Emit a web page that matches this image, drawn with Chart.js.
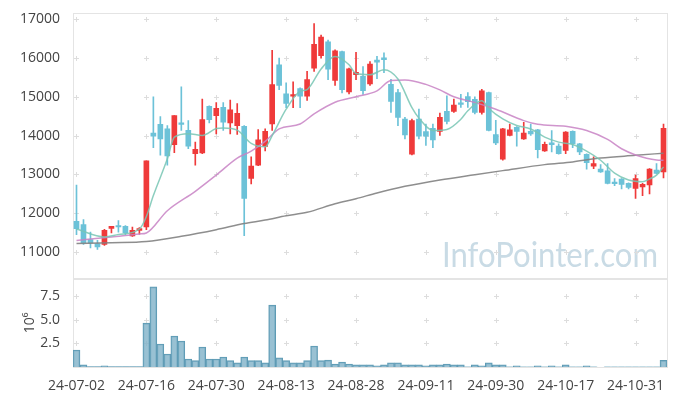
<!DOCTYPE html>
<html>
<head>
<meta charset="utf-8">
<script src="https://cdn.jsdelivr.net/npm/chart.js@4.4.1/dist/chart.umd.min.js"></script>
<style>
html,body{margin:0;padding:0;background:#fff;}
#wrap{width:677px;height:396px;}
</style>
</head>
<body>
<div id="wrap"><canvas id="chart"></canvas></div>
<script>
// trading days 24-07-02 .. 24-11-06
const dates=[
'24-07-02','24-07-03','24-07-04','24-07-05','24-07-08','24-07-09','24-07-10','24-07-11','24-07-12','24-07-15',
'24-07-16','24-07-17','24-07-18','24-07-19','24-07-22','24-07-23','24-07-24','24-07-25','24-07-26','24-07-29',
'24-07-30','24-07-31','24-08-01','24-08-02','24-08-05','24-08-06','24-08-07','24-08-08','24-08-09','24-08-12',
'24-08-13','24-08-14','24-08-16','24-08-19','24-08-20','24-08-21','24-08-22','24-08-23','24-08-26','24-08-27',
'24-08-28','24-08-29','24-08-30','24-09-02','24-09-03','24-09-04','24-09-05','24-09-06','24-09-09','24-09-10',
'24-09-11','24-09-12','24-09-13','24-09-19','24-09-20','24-09-23','24-09-24','24-09-25','24-09-26','24-09-27',
'24-09-30','24-10-02','24-10-04','24-10-07','24-10-08','24-10-10','24-10-11','24-10-14','24-10-15','24-10-16',
'24-10-17','24-10-18','24-10-21','24-10-22','24-10-23','24-10-24','24-10-25','24-10-28','24-10-29','24-10-30',
'24-10-31','24-11-01','24-11-04','24-11-05','24-11-06'
];

const opens=[
11785,11701,11317,11215,11189,11606,11660,11657,11409,11555,
11639,14061,14291,14171,13762,14310,14138,13532,13550,14752,
14514,14726,14325,14258,14240,12893,13235,13721,14299,15826,
15077,15015,15212,15015,15742,16064,16422,15425,16166,15128,
15570,15527,15332,15946,16005,15322,15110,14427,13517,14427,
14105,14189,14105,14624,14624,14836,15008,14936,14598,15110,
14028,13389,14002,14215,13916,14112,14146,13601,13813,13729,
13619,14112,13788,13517,13210,13133,13089,12780,12877,12765,
12637,12673,12724,13107,13064
];
const highs=[
12724,11829,11512,11299,11580,11660,11803,11680,11639,11624,
13345,15000,14488,14258,14514,15256,14386,13831,14939,14770,
14854,14854,14913,14828,14260,13448,14156,14171,16202,15997,
15358,15384,15230,15655,16892,16593,16465,16210,16180,15740,
16151,15783,15910,16048,16133,15450,15194,14470,14427,14683,
14299,14299,14580,15026,14939,15066,15110,15000,15194,15120,
14394,14189,14299,14230,14343,14299,14160,13831,14130,13788,
14100,14125,13800,13530,13448,13251,13276,12893,12890,12780,
12980,12765,13148,13276,14299
];
const lows=[
11445,11189,11102,11061,11164,11486,11504,11445,11400,11453,
11573,13685,13491,13235,13557,14130,13660,13235,13530,14325,
14043,14130,14043,14028,11419,12749,13220,13601,14130,15187,
14718,14718,14718,14905,15655,15997,15442,15297,15102,15077,
15442,15059,15297,15468,15622,14598,14258,13916,13500,13916,
13747,13685,14002,14299,14598,14726,14726,14560,14555,14120,
13762,13363,13990,13729,13900,14002,13422,13590,13575,13520,
13532,13685,13506,13133,13148,13046,12750,12706,12621,12621,
12381,12450,12494,13010,12910
];
const closes=[
11600,11230,11230,11128,11555,11657,11640,11486,11555,11598,
13345,13985,13916,13473,14514,14290,13729,13644,14412,14412,
14700,14343,14667,14573,12381,13210,13890,14112,15315,15297,
14829,15060,15015,15442,16356,16542,15716,16184,15187,15724,
15629,15161,15844,15895,15960,14880,14470,14018,14386,13985,
13985,13890,14470,14368,14785,14803,14872,14598,15153,14130,
13813,14171,14146,14105,14061,14043,13634,13772,13762,13532,
14087,13788,13575,13302,13276,13064,12765,12760,12739,12662,
12893,12739,13133,13020,14189
];
const volumes=[
1800000,220000,50000,50000,120000,50000,50000,50000,50000,50000,
4650000,8480000,2430000,1380000,3280000,2750000,850000,670000,2120000,850000,
850000,1060000,670000,430000,1060000,670000,670000,430000,6550000,960000,
670000,430000,430000,670000,2220000,670000,730000,320000,530000,320000,
220000,220000,220000,120000,220000,450000,450000,220000,220000,220000,
120000,220000,220000,320000,220000,220000,30000,220000,120000,430000,
220000,220000,30000,120000,30000,30000,120000,30000,120000,30000,
220000,30000,30000,120000,30000,0,30000,30000,30000,30000,
30000,30000,30000,30000,700000
];

// moving averages (index into dates, value)
const ma5Idx=[0,4,6,9,10,11,13,14,16,18,20,21,23,25,27,28,30,32,33,35,37,39,40,42,44,46,48,49,51,53,55,56,58,59,61,63,65,67,69,71,73,75,77,79,81,82,83,84];
const ma5Val=[11588,11384,11445,11588,11913,12450,13400,13959,14050,14000,14180,14197,14140,13800,13710,14000,14680,15140,15187,15720,16038,15826,15600,15570,15700,15460,14720,14450,14130,14156,14420,14640,14898,14700,14430,14260,14171,13959,13831,13770,13600,13363,13030,12852,12808,12880,12980,13192];
const ma20Idx=[0,5,9,10,13,17,20,23,25,27,29,32,34,37,40,43,45,47,50,52,54,57,60,64,66,70,73,76,78,80,83,84];
const ma20Val=[11292,11380,11460,11486,12060,12560,12980,13420,13600,13849,14171,14299,14560,14860,15000,15153,15420,15435,15322,15180,15000,14854,14680,14386,14290,14240,14130,13900,13660,13500,13370,13363];
const ma120Idx=[0,5,10,15,20,24,27,30,33,37,40,43,47,52,57,61,67,71,75,80,84];
const ma120Val=[11215,11235,11266,11400,11570,11730,11820,11930,12020,12240,12370,12520,12690,12855,12990,13095,13250,13320,13420,13490,13545];

const priceTicks=[11000,12000,13000,14000,15000,16000,17000];
const volTicks=[2500000,5000000,7500000];

const upColor='#ef3a3a';
const downColor='#6cc2d8';
const FONT='"Open Sans", "DejaVu Sans", sans-serif';

function pts(idx,val){
  return idx.map((i,k)=>({x:dates[i],y:val[k]}));
}

let candleColors=closes.map((c,i)=> c>=opens[i] ? upColor : downColor);

const crossGrid={
  id:'crossGrid',
  beforeDatasetsDraw(chart){
    const {ctx,scales}=chart;
    const x=scales.x, y=scales.y, yv=scales.yv;
    ctx.save();
    // watermark
    ctx.font='34px "Lato", sans-serif';
    let w=ctx.measureText('InfoPointer.com').width;
    ctx.fillStyle='#c9dbe5';
    ctx.translate(442,267);
    ctx.scale(216/w,1);
    ctx.fillText('InfoPointer.com',0,0);
    ctx.restore();

    ctx.save();
    ctx.strokeStyle='#e4e4e4';
    ctx.lineWidth=1;
    [y,yv].forEach(s=>{
      ctx.strokeRect(Math.round(x.left)+0.5,Math.round(s.top)+0.5,Math.round(x.right-x.left),Math.round(s.bottom-s.top));
    });
    ctx.strokeStyle='#dddddd';
    for(let i=0;i<dates.length;i+=10){
      let px=Math.round(x.getPixelForValue(i))+0.5;
      [[y,priceTicks],[yv,volTicks]].forEach(([s,ts])=>{
        ts.forEach(v=>{
          let py=Math.round(s.getPixelForValue(v))+0.5;
          ctx.beginPath();
          ctx.moveTo(px-2.5,py);ctx.lineTo(px+2.5,py);
          ctx.moveTo(px,py-2.5);ctx.lineTo(px,py+2.5);
          ctx.stroke();
        });
      });
    }
    ctx.restore();
  }
};

new Chart(document.getElementById('chart'),{
  type:'bar',
  data:{
    labels:dates,
    datasets:[
      {type:'line',label:'MA5',data:pts(ma5Idx,ma5Val),yAxisID:'y',borderColor:'rgba(120,198,180,0.85)',borderWidth:1.5,pointRadius:0,spanGaps:true,cubicInterpolationMode:'monotone',order:0},
      {type:'line',label:'MA20',data:pts(ma20Idx,ma20Val),yAxisID:'y',borderColor:'rgba(200,130,196,0.85)',borderWidth:1.5,pointRadius:0,spanGaps:true,cubicInterpolationMode:'monotone',order:0},
      {type:'line',label:'MA120',data:pts(ma120Idx,ma120Val),yAxisID:'y',borderColor:'rgba(130,130,130,0.9)',borderWidth:1.5,pointRadius:0,spanGaps:true,cubicInterpolationMode:'monotone',order:0},
      {label:'body',data:opens.map((o,i)=>[o,closes[i]]),yAxisID:'y',backgroundColor:candleColors,barThickness:5,minBarLength:1.5,grouped:false,order:1},
      {label:'wick',data:lows.map((l,i)=>[l,highs[i]]),yAxisID:'y',backgroundColor:candleColors,barThickness:1,grouped:false,order:2},
      {label:'volume',data:volumes,yAxisID:'yv',backgroundColor:'rgba(128,178,200,0.8)',borderColor:'#5d9ab4',borderWidth:1,barPercentage:1,categoryPercentage:1,grouped:false,order:3}
    ]
  },
  options:{
    responsive:true,
    maintainAspectRatio:false,
    animation:false,
    layout:{padding:{top:10,right:10,left:0,bottom:0}},
    plugins:{legend:{display:false},tooltip:{enabled:false}},
    scales:{
      x:{
        type:'category',
        offset:true,
        grid:{display:false},
        border:{display:false},
        ticks:{
          autoSkip:false,maxRotation:0,minRotation:0,padding:3,
          color:'#444',font:{family:FONT,size:14},
          callback:function(v,i){ return i%10===0 ? this.getLabelForValue(v) : ''; }
        },
        afterFit(s){ s.height=29; }
      },
      yv:{
        type:'linear',position:'left',stack:'panel',stackWeight:89,
        min:0,max:9330000,
        grid:{display:false},border:{display:false},
        afterBuildTicks(s){ s.ticks=volTicks.map(v=>({value:v})); },
        ticks:{color:'#444',font:{family:FONT,size:14},padding:5,callback:v=>(v/1000000).toFixed(1)},
        title:{display:true,text:'10⁶',color:'#444',font:{family:FONT,size:14},padding:{top:22,bottom:0}},
        afterFit(s){ s.width=73; }
      },
      y:{
        type:'linear',position:'left',stack:'panel',stackWeight:268,
        min:10302,max:17153,
        grid:{display:false},border:{display:false},
        afterBuildTicks(s){ s.ticks=priceTicks.map(v=>({value:v})); },
        ticks:{color:'#444',font:{family:FONT,size:14},padding:5,callback:v=>String(v)},
        afterFit(s){ s.width=73; }
      }
    }
  },
  plugins:[crossGrid]
});
</script>
</body>
</html>
